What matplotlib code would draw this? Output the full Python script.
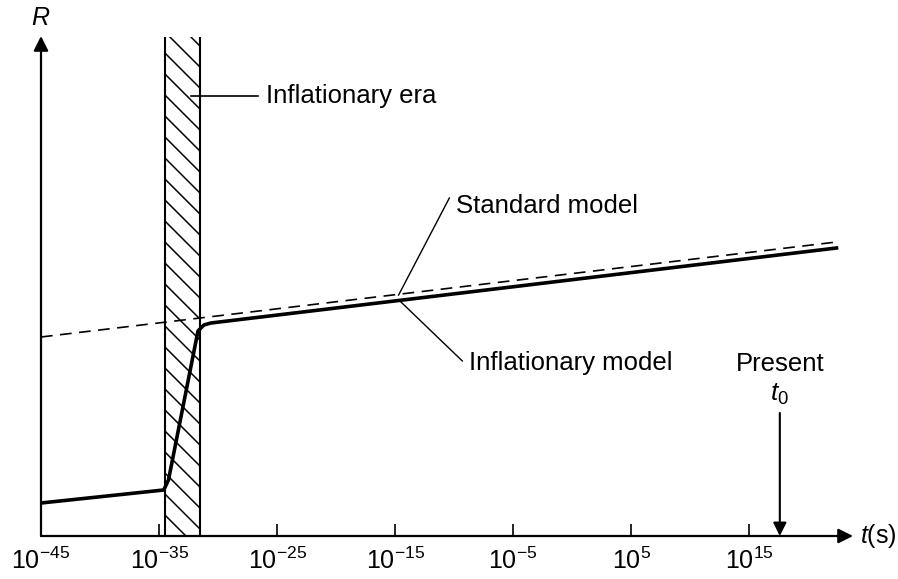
import numpy as np
import matplotlib
matplotlib.use("Agg")
import matplotlib.pyplot as plt

plt.rcParams['font.family'] = ['Liberation Sans', 'DejaVu Sans']
plt.rcParams['mathtext.fontset'] = 'custom'
plt.rcParams['mathtext.rm'] = 'Liberation Sans'
plt.rcParams['mathtext.it'] = 'Liberation Sans:italic'

# --- adatok (log10 t, R tetszőleges egységben) ---
tick_exps = [-45, -35, -25, -15, -5, 5, 15]
tick_labels = [f"$10^{{{e}}}$" for e in tick_exps]

standard_logt = [-45, 22.4]
standard_R = [199, 294]

inflation_logt = [-45, -34.6, -34.2, -31.7, -31.2, -30.6, 22.4]
inflation_R = [33, 46, 56, 205, 211, 213, 288]

era_start, era_end = -34.5, -31.5
present_logt = 17.6

fig = plt.figure(figsize=(8.98, 5.79), dpi=100)
ax = fig.add_axes([41 / 898, 43 / 579, (853 - 41) / 898, 500 / 579])
ax.set_xlim(-45, 23.8)
ax.set_ylim(0, 500)

# sraffozott inflációs korszak
band = ax.axvspan(era_start, era_end, ymax=0.998, facecolor='none', linewidth=0)
ax.vlines([era_start, era_end], 0, 499, color='black', lw=1.5)
# 45 fokos ferde vonalak (pixelben), kb. 21 px távolsággal
px_per_x = (853 - 41) / (23.8 + 45)
drop = (era_end - era_start) * px_per_x
for y0 in np.arange(0, 500 + drop, 21):
    ln, = ax.plot([era_start, era_end], [y0, y0 - drop], color='black', lw=1.1)
    ln.set_clip_path(band)

ax.plot(standard_logt, standard_R, color='black', lw=1.2, ls=(0, (7, 4.5)))
ax.plot(inflation_logt, inflation_R, color='black', lw=2.6, solid_joinstyle='round')

# tengelyek nyilakkal
for s in ax.spines.values():
    s.set_visible(False)
ax.annotate('', xy=(1.0, 0), xytext=(0, 0), xycoords='axes fraction',
            arrowprops=dict(arrowstyle='-|>', color='black', lw=1.6, mutation_scale=22,
                            shrinkA=0, shrinkB=0))
ax.annotate('', xy=(0, 1.0), xytext=(0, 0), xycoords='axes fraction',
            arrowprops=dict(arrowstyle='-|>', color='black', lw=1.6, mutation_scale=22,
                            shrinkA=0, shrinkB=0))

ax.set_xticks(tick_exps)
ax.set_xticklabels(tick_labels, fontsize=18)
ax.tick_params(axis='x', direction='in', length=9, width=1.2, pad=8)
ax.set_yticks([])

ax.text(-45, 518, '$R$', fontsize=18, ha='center', va='center', clip_on=False)
ax.text(24.4, 0, '$t$(s)', fontsize=18, ha='left', va='center', clip_on=False)

# feliratok vezetővonalakkal
ax.plot([-32.3, -26.6], [440, 440], color='black', lw=1.2)
ax.text(-25.9, 440, 'Inflationary era', fontsize=18.5, va='center', ha='left')

ax.plot([-14.7, -10.4], [241, 338], color='black', lw=1.0)
ax.text(-9.8, 330, 'Standard model', fontsize=18.5, va='center', ha='left')

ax.plot([-14.5, -9.3], [234, 175], color='black', lw=1.0)
ax.text(-8.7, 173, 'Inflationary model', fontsize=18.5, va='center', ha='left')

ax.text(present_logt, 172, 'Present', fontsize=18.5, ha='center', va='center')
ax.text(present_logt, 142, '$t_0$', fontsize=19, ha='center', va='center')
ax.annotate('', xy=(present_logt, 0), xytext=(present_logt, 123),
            arrowprops=dict(arrowstyle='-|>', color='black', lw=1.5, mutation_scale=20,
                            shrinkA=0, shrinkB=0))

fig.savefig('out.png', dpi=100)
